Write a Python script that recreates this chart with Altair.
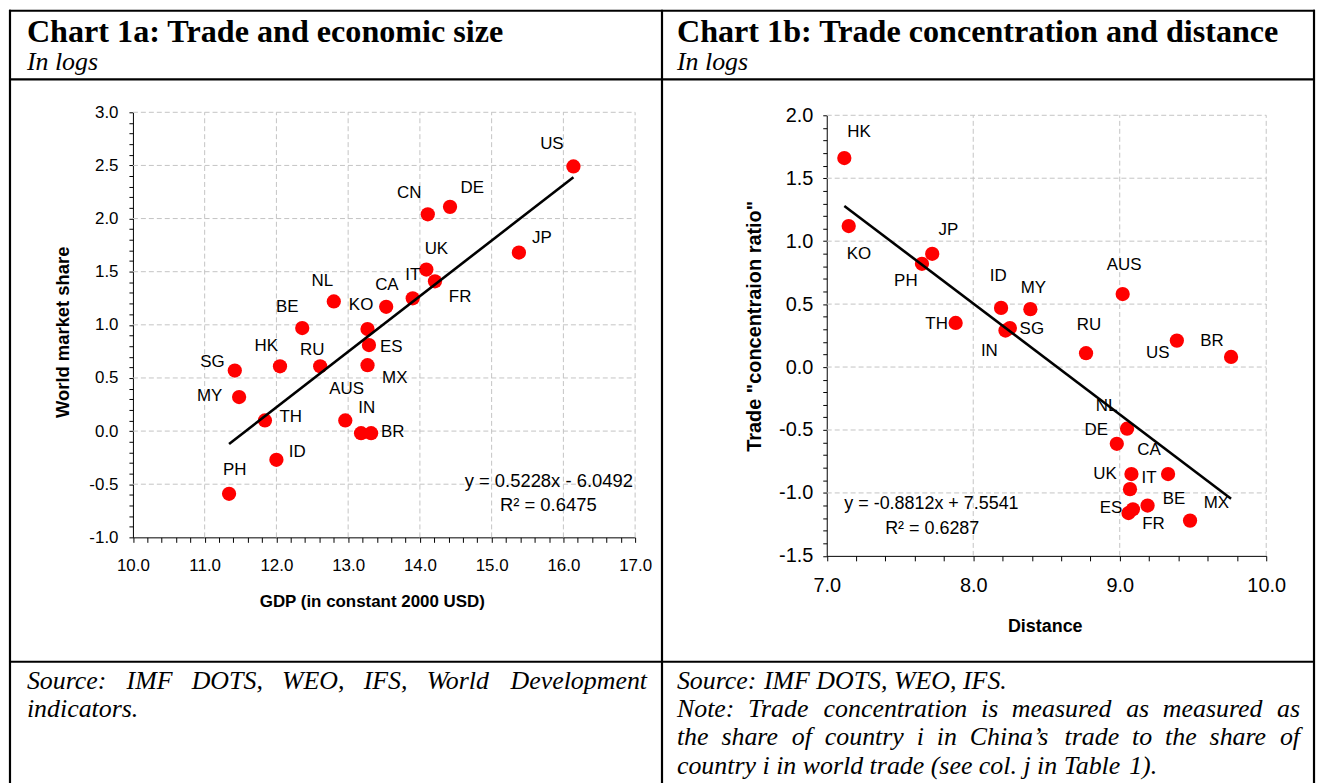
import altair as alt
import pandas as pd

W, H = 1314, 775

# ---------------- Chart 1a data ----------------
a_country = ["US", "CN", "DE", "JP", "UK", "FR", "IT", "CA", "NL", "KO", "BE", "ES",
             "MX", "HK", "RU", "SG", "MY", "TH", "AUS", "IN", "BR", "ID", "PH"]
a_gdp = [16.14, 14.11, 14.42, 15.38, 14.09, 14.21, 13.90, 13.53, 12.80, 13.27, 12.36, 13.29,
         13.27, 12.05, 12.61, 11.42, 11.48, 11.84, 12.96, 13.18, 13.32, 12.00, 11.34]
a_share = [2.49, 2.04, 2.11, 1.68, 1.52, 1.41, 1.25, 1.17, 1.22, 0.96, 0.97, 0.81,
           0.62, 0.61, 0.61, 0.57, 0.32, 0.10, 0.10, -0.02, -0.02, -0.27, -0.59]
a_lab_x = [15.84, 13.85, 14.73, 15.70, 14.23, 14.56, 13.90, 13.54, 12.64, 13.18, 12.15, 13.60,
           13.65, 11.86, 12.50, 11.11, 11.07, 12.20, 12.98, 13.26, 13.62, 12.29, 11.42]
a_lab_y = [2.70, 2.24, 2.29, 1.82, 1.71, 1.26, 1.47, 1.37, 1.41, 1.19, 1.17, 0.79,
           0.50, 0.80, 0.76, 0.65, 0.33, 0.13, 0.40, 0.22, -0.01, -0.20, -0.37]
a_slope, a_intercept = 0.5228, -6.0492
a_eq = "y = 0.5228x - 6.0492"
a_r2 = "R\u00b2 = 0.6475"

# ---------------- Chart 1b data ----------------
b_country = ["HK", "KO", "JP", "PH", "ID", "MY", "TH", "SG", "IN", "AUS", "RU", "US",
             "BR", "NL", "DE", "UK", "CA", "IT", "BE", "ES", "FR", "MX"]
b_dist = [7.12, 7.15, 7.72, 7.65, 8.19, 8.39, 7.88, 8.25, 8.22, 9.02, 8.77, 9.39,
          9.76, 9.05, 8.98, 9.08, 9.33, 9.07, 9.19, 9.06, 9.09, 9.48]
b_conc = [1.66, 1.12, 0.90, 0.82, 0.47, 0.46, 0.35, 0.31, 0.29, 0.58, 0.11, 0.21,
          0.08, -0.49, -0.61, -0.85, -0.85, -0.97, -1.10, -1.16, -1.13, -1.22]
b_lab_x = [7.22, 7.22, 7.83, 7.54, 8.17, 8.41, 7.75, 8.40, 8.11, 9.03, 8.79, 9.26,
           9.63, 8.91, 8.84, 8.90, 9.20, 9.20, 9.37, 8.94, 9.23, 9.66]
b_lab_y = [1.87, 0.90, 1.09, 0.68, 0.72, 0.63, 0.34, 0.30, 0.13, 0.81, 0.33, 0.11,
           0.21, -0.31, -0.50, -0.85, -0.66, -0.88, -1.05, -1.12, -1.25, -1.08]
b_slope, b_intercept = -0.8812, 7.5541
b_eq = "y = -0.8812x + 7.5541"
b_r2 = "R\u00b2 = 0.6287"

# axis tick values
a_xticks = [round(10 + 0.2 * i, 1) for i in range(36)]
a_yticks = [round(-1 + 0.1 * i, 1) for i in range(41)]
a_xgrid = [11, 12, 13, 14, 15, 16, 17]
a_ygrid = [-0.5, 0.0, 0.5, 1.0, 1.5, 2.0, 2.5, 3.0]
b_xticks = [round(7 + 0.2 * i, 1) for i in range(16)]
b_yticks = [round(-1.5 + 0.1 * i, 1) for i in range(36)]
b_xgrid = [8, 9, 10]
b_ygrid = [-1.0, -0.5, 0.0, 0.5, 1.0, 1.5, 2.0]

# texts
title_a = "Chart 1a: Trade and economic size"
title_b = "Chart 1b: Trade concentration and distance"
subtitle = "In logs"
foot_a = ["Source: IMF DOTS, WEO, IFS, World Development", "indicators."]
foot_b = ["Source: IMF DOTS, WEO, IFS.",
          "Note: Trade concentration is measured as measured as",
          "the share of country i in China\u2019s trade to the share of",
          "country i in world trade (see col. j in Table 1)."]

SERIF = "Liberation Serif"
SANS = "Liberation Sans"
RED = "#ff0000"
GRID = "#c4c4c4"

# ---------------- scales (pixel ranges inside one canvas) ----------------
AX = alt.Scale(domain=[10, 17], range=[125.5, 630], nice=False, zero=False)
AY = alt.Scale(domain=[-1, 3], range=[530, 103], nice=False, zero=False)
BX = alt.Scale(domain=[7, 10], range=[822.5, 1264], nice=False, zero=False)
BY = alt.Scale(domain=[-1.5, 2], range=[548.6, 106], nice=False, zero=False)

LAB_INT = "abs(datum.value - round(datum.value)) < 1e-6 ? replace(format(datum.value, '.1f'), '\u2212', '-') : ''"
LAB_HALF = "abs(datum.value*2 - round(datum.value*2)) < 1e-6 ? replace(format(datum.value, '.1f'), '\u2212', '-') : ''"


def xaxis(vals, offset, size, pad):
    return alt.Axis(values=vals, orient="bottom", offset=offset, grid=False, title=None,
                    domainColor="black", domainWidth=1, tickColor="black", tickSize=5,
                    tickWidth=1, labelFont=SANS, labelFontSize=size, labelColor="black",
                    labelPadding=pad, labelFlush=False, labelOverlap=False, labelBound=False,
                    labelExpr=LAB_INT)


def yaxis(vals, offset, size, pad):
    return alt.Axis(values=vals, orient="left", offset=offset, grid=False, title=None,
                    domainColor="black", domainWidth=1, tickColor="black", tickSize=4,
                    tickWidth=1, labelFont=SANS, labelFontSize=size, labelColor="black",
                    labelPadding=pad, labelFlush=False, labelOverlap=False, labelBound=False,
                    labelExpr=LAB_HALF)


def panel(country, xs, ys, lx, ly, slope, intercept, SX, SY, xgrid, ygrid, xdom, ydom,
          xticks, yticks, xoff, yoff, tsize, xpad, ypad, eq, eq_pos, eq_align, eq_size,
          r2, r2_pos):
    pts = pd.DataFrame({"c": country, "x": xs, "y": ys, "lx": lx, "ly": ly})
    vg = pd.DataFrame({"v": xgrid, "a": ydom[0], "b": ydom[1]})
    hg = pd.DataFrame({"v": ygrid, "a": xdom[0], "b": xdom[1]})
    x0, x1 = min(xs), max(xs)
    tr = pd.DataFrame({"x": [x0, x1], "y": [slope * x0 + intercept, slope * x1 + intercept]})
    ann = pd.DataFrame({"t": [eq], "x": [eq_pos[0]], "y": [eq_pos[1]]})
    ann2 = pd.DataFrame({"t": [r2], "x": [r2_pos[0]], "y": [r2_pos[1]]})

    vgrid = alt.Chart(vg).mark_rule(color=GRID, strokeDash=[5, 3], strokeWidth=1).encode(
        x=alt.X("v:Q", scale=SX, axis=None), y=alt.Y("a:Q", scale=SY, axis=None), y2="b:Q")
    hgrid = alt.Chart(hg).mark_rule(color=GRID, strokeDash=[5, 3], strokeWidth=1).encode(
        y=alt.Y("v:Q", scale=SY, axis=None), x=alt.X("a:Q", scale=SX, axis=None), x2="b:Q")
    dots = alt.Chart(pts).mark_circle(size=205, color=RED, opacity=1).encode(
        x=alt.X("x:Q", scale=SX, axis=xaxis(xticks, xoff, tsize, xpad)),
        y=alt.Y("y:Q", scale=SY, axis=yaxis(yticks, yoff, tsize, ypad)))
    line = alt.Chart(tr).mark_line(color="black", strokeWidth=2.6).encode(
        x=alt.X("x:Q", scale=SX, axis=None), y=alt.Y("y:Q", scale=SY, axis=None))
    labels = alt.Chart(pts).mark_text(font=SANS, fontSize=17, color="black").encode(
        x=alt.X("lx:Q", scale=SX, axis=None), y=alt.Y("ly:Q", scale=SY, axis=None), text="c:N")
    eqt = alt.Chart(ann).mark_text(font=SANS, fontSize=eq_size, color="black", align=eq_align).encode(
        x=alt.X("x:Q", scale=SX, axis=None), y=alt.Y("y:Q", scale=SY, axis=None), text="t:N")
    r2t = alt.Chart(ann2).mark_text(font=SANS, fontSize=eq_size, color="black", align="center").encode(
        x=alt.X("x:Q", scale=SX, axis=None), y=alt.Y("y:Q", scale=SY, axis=None), text="t:N")
    return [vgrid, hgrid, dots, line, labels, eqt, r2t]


layers = []
layers += panel(a_country, a_gdp, a_share, a_lab_x, a_lab_y, a_slope, a_intercept, AX, AY,
                a_xgrid, a_ygrid, [10, 17], [-1, 3], a_xticks, a_yticks, 530 - H, -125.5,
                17, 15, 11, a_eq, (16.97, -0.47), "right", 18.5, a_r2, (15.79, -0.70))
layers += panel(b_country, b_dist, b_conc, b_lab_x, b_lab_y, b_slope, b_intercept, BX, BY,
                b_xgrid, b_ygrid, [7, 10], [-1.5, 2], b_xticks, b_yticks, 548.6 - H, -822.5,
                20, 15, 10, b_eq, (7.12, -1.09), "left", 18, b_r2, (7.72, -1.29))


def rule(x1, y1, x2, y2):
    return alt.Chart(pd.DataFrame({"k": [0]})).mark_rule(color="black", strokeWidth=2.2).encode(
        x=alt.value(x1), y=alt.value(y1), x2=alt.value(x2), y2=alt.value(y2))


def txt(s, x, y, size, weight="normal", style="normal", font=SERIF, align="left", angle=0):
    return alt.Chart(pd.DataFrame({"k": [0]})).mark_text(
        font=font, fontSize=size, fontWeight=weight, fontStyle=style, align=align,
        baseline="alphabetic" if angle == 0 else "middle", angle=angle, color="black").encode(
        x=alt.value(x), y=alt.value(y), text=alt.value(s))


# table frame
layers += [rule(1, 1, 1313, 1), rule(2, 0, 2, H + 5), rule(1312, 0, 1312, H + 5),
           rule(657, 0, 657, H + 5), rule(1, 70, 1313, 70), rule(1, 655, 1313, 655)]

# headers
layers += [txt(title_a, 19, 32, 32.3, weight="bold"), txt(subtitle, 19, 61, 26, style="italic"),
           txt(title_b, 672, 32, 32.3, weight="bold"), txt(subtitle, 672, 61, 26, style="italic")]

# axis titles
layers += [txt("GDP (in constant 2000 USD)", 366, 600, 17, weight="bold", font=SANS, align="center"),
           txt("World market share", 55, 324, 18.5, weight="bold", font=SANS, align="center", angle=270),
           txt("Distance", 1042, 625, 18, weight="bold", font=SANS, align="center"),
           txt('Trade "concentraion ratio"', 750, 318, 20, weight="bold", font=SANS, align="center", angle=270)]

# footers, justified like the original
TI = {" ": 250, ",": 250, ".": 250, ":": 333, "(": 333, ")": 333, "\u2019": 333, "1": 500,
      "A": 611, "C": 667, "D": 722, "E": 611, "F": 611, "I": 333, "M": 833, "N": 667, "O": 722,
      "S": 500, "T": 556, "W": 833,
      "a": 500, "b": 500, "c": 444, "d": 500, "e": 444, "f": 278, "g": 500, "h": 500, "i": 278,
      "j": 278, "k": 444, "l": 278, "m": 722, "n": 500, "o": 500, "p": 500, "r": 389, "s": 389,
      "t": 278, "u": 500, "v": 444, "w": 667, "y": 444}
FS = 26


def words(line, left, right, y, justify):
    ws = line.split(" ")
    wd = [sum(TI.get(ch, 500) for ch in w) * FS / 1000 for w in ws]
    gap = (right - left - sum(wd)) / (len(ws) - 1) if justify else TI[" "] * FS / 1000
    rows, x = [], left
    for w, d in zip(ws, wd):
        rows.append({"w": w, "px": x, "py": y})
        x += d + gap
    return rows


rows = []
base = [682, 710.5, 739, 767.5]
rows += words(foot_a[0], 19, 642, base[0], True)
rows += words(foot_a[1], 19, 642, base[1], False)
rows += words(foot_b[0], 672, 1298, base[0], False)
rows += words(foot_b[1], 672, 1298, base[1], True)
rows += words(foot_b[2], 672, 1298, base[2], True)
rows += words(foot_b[3], 672, 1298, base[3], False)
foot = alt.Chart(pd.DataFrame(rows)).mark_text(
    font=SERIF, fontSize=FS, fontStyle="italic", align="left", baseline="alphabetic", color="black").encode(
    x=alt.X("px:Q", scale=None, axis=None), y=alt.Y("py:Q", scale=None, axis=None), text="w:N")
layers.append(foot)

chart = alt.layer(*layers).resolve_scale(x="independent", y="independent").resolve_axis(
    x="independent", y="independent").properties(
    width=W, height=H, padding=0, autosize=alt.AutoSizeParams(type="none"),
    background="white").configure_view(strokeWidth=0)

chart.save("out.html", embed_options={"renderer": "svg", "actions": False})
